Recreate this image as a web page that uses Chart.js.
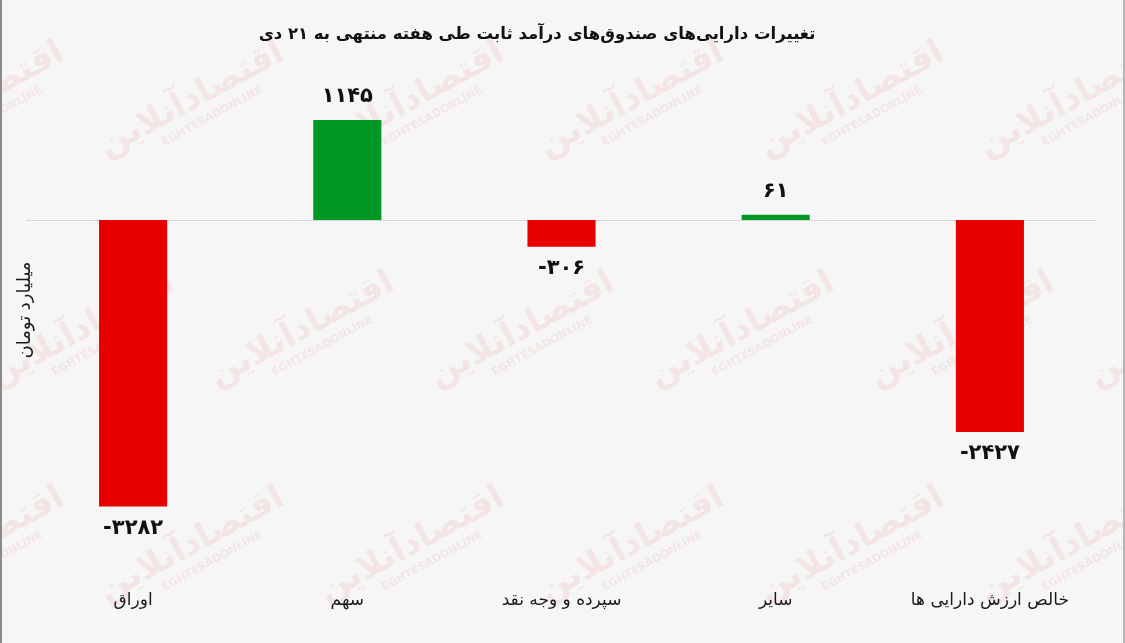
<!DOCTYPE html>
<html lang="fa">
<head>
<meta charset="utf-8">
<title>تغییرات دارایی‌های صندوق‌های درآمد ثابت</title>
<script src="https://cdn.jsdelivr.net/npm/chart.js@4"></script>
<style>
  html, body { margin: 0; padding: 0; background: #f6f6f6; overflow: hidden; }
  #wrap { width: 1121px; height: 643px; border-left: 2px solid #8a8a8a; border-right: 2px solid #b5b5b5; }
  canvas { display: block; }
</style>
</head>
<body>
<div id="wrap"><canvas id="chart" width="1121" height="643"></canvas></div>
<script>
(function () {
  'use strict';

  var TITLE      = 'تغییرات دارایی‌های صندوق‌های درآمد ثابت طی هفته منتهی به ۲۱ دی';
  var UNIT       = 'میلیارد تومان';
  var categories = ['اوراق', 'سهم', 'سپرده و وجه نقد', 'سایر', 'خالص ارزش دارایی ها'];
  var values     = [-3282, 1145, -306, 61, -2427];
  var yRange     = [-3585, 1523];

  var FONT  = "'DejaVu Sans', sans-serif";
  var RED   = '#e70000';
  var GREEN = '#009824';

  function faDigits(n) {
    var d = '۰۱۲۳۴۵۶۷۸۹';
    var s = String(Math.abs(n)).replace(/[0-9]/g, function (c) { return d[+c]; });
    return (n < 0 ? '-' : '') + s;
  }

  // faint site watermark tiles
  var watermark = {
    id: 'watermark',
    beforeDraw: function (chart) {
      var ctx = chart.ctx;
      ctx.save();
      ctx.fillStyle = 'rgba(225,40,40,0.08)';
      ctx.textAlign = 'center';
      ctx.textBaseline = 'middle';
      var rows = [100, 330, 545];
      rows.forEach(function (ry, r) {
        for (var x = (r % 2 ? 80 : -30); x < chart.width + 120; x += 220) {
          ctx.save();
          ctx.translate(x, ry);
          ctx.rotate(-0.5);
          ctx.font = 'bold 34px ' + FONT;
          ctx.fillText('اقتصادآنلاین', 0, 0);
          ctx.font = 'bold 11px ' + FONT;
          ctx.fillText('EGHTESADONLINE', 10, 24);
          ctx.restore();
        }
      });
      ctx.restore();
    }
  };

  var zeroLine = {
    id: 'zeroLine',
    beforeDatasetsDraw: function (chart) {
      var ctx = chart.ctx;
      var y = Math.round(chart.scales.y.getPixelForValue(0)) + 0.5;
      ctx.save();
      ctx.strokeStyle = '#d6d6d6';
      ctx.lineWidth = 1;
      ctx.beginPath();
      ctx.moveTo(chart.chartArea.left, y);
      ctx.lineTo(chart.chartArea.right, y);
      ctx.stroke();
      ctx.restore();
    }
  };

  var barLabels = {
    id: 'barLabels',
    afterDatasetsDraw: function (chart) {
      var ctx = chart.ctx;
      var meta = chart.getDatasetMeta(0);
      ctx.save();
      ctx.font = 'bold 21px ' + FONT;
      ctx.fillStyle = '#111';
      ctx.textAlign = 'center';
      ctx.textBaseline = 'middle';
      meta.data.forEach(function (bar, i) {
        var v = values[i];
        var y = v >= 0 ? bar.y - 23 : bar.y + 22;
        ctx.fillText(faDigits(v), bar.x, y);
      });
      ctx.restore();
    }
  };

  var titleDraw = {
    id: 'titleDraw',
    afterDraw: function (chart) {
      var ctx = chart.ctx;
      ctx.save();
      ctx.font = 'bold 16.5px ' + FONT;
      ctx.fillStyle = '#111';
      ctx.textAlign = 'center';
      ctx.textBaseline = 'middle';
      ctx.direction = 'rtl';
      ctx.fillText(TITLE, 535, 35);
      ctx.restore();
    }
  };

  new Chart(document.getElementById('chart'), {
    type: 'bar',
    data: {
      labels: categories,
      datasets: [{
        data: values,
        backgroundColor: values.map(function (v) { return v >= 0 ? GREEN : RED; }),
        borderWidth: 0,
        categoryPercentage: 1,
        barPercentage: 0.318
      }]
    },
    options: {
      responsive: false,
      animation: false,
      layout: { padding: { top: 87, right: 26, bottom: 0, left: 0 } },
      plugins: {
        legend: { display: false },
        tooltip: { enabled: false }
      },
      scales: {
        x: {
          afterFit: function (scale) { scale.height = 110; },
          grid: { display: false },
          border: { display: false },
          ticks: {
            padding: 49,
            color: '#1a1a1a',
            font: { family: FONT, size: 17 }
          }
        },
        y: {
          min: yRange[0],
          max: yRange[1],
          afterFit: function (scale) { scale.width = 24; },
          grid: { display: false },
          border: { display: false },
          ticks: { display: false },
          title: {
            display: true,
            text: UNIT,
            color: '#1a1a1a',
            font: { family: FONT, size: 18 },
            padding: { top: 13, bottom: 0 }
          }
        }
      }
    },
    plugins: [watermark, zeroLine, barLabels, titleDraw]
  });
})();
</script>
</body>
</html>
